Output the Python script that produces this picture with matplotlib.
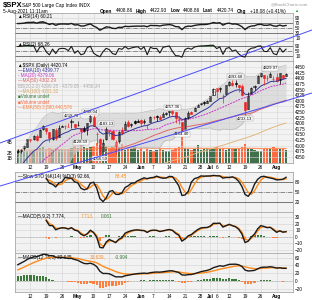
import numpy as np
import pandas as pd
import matplotlib
matplotlib.use("Agg")
import matplotlib.pyplot as plt
from matplotlib.lines import Line2D

W, H = 312, 300
plt.rcParams["font.family"] = ["Liberation Sans", "DejaVu Sans"]

# closes before the visible window (warm-up for the indicators), Jan 4 - Apr 5 2021
prior_close = [3700.65, 3726.86, 3748.14, 3803.79, 3824.68, 3799.61, 3801.19, 3809.84, 3795.54, 3768.25,
               3798.91, 3851.85, 3853.07, 3841.47, 3855.36, 3849.62, 3750.77, 3787.38, 3714.24, 3773.86,
               3826.31, 3830.17, 3871.74, 3886.83, 3915.59, 3911.23, 3909.88, 3916.38, 3934.83, 3932.59,
               3931.33, 3913.97, 3906.71, 3876.50, 3881.37, 3925.43, 3829.34, 3811.15, 3901.82, 3870.29,
               3819.72, 3768.47, 3841.94, 3821.35, 3875.44, 3898.81, 3939.34, 3943.34, 3968.94, 3962.71,
               3974.12, 3915.46, 3913.10, 3940.59, 3910.52, 3889.14, 3909.52, 3974.54, 3971.09, 3958.55,
               3972.89, 4019.87, 4077.91]

dates = pd.bdate_range("2021-04-06", "2021-08-05")
dates = dates[~dates.isin(pd.to_datetime(["2021-05-31", "2021-07-05"]))]

opens = [4075.6, 4074.3, 4089.9, 4096.1, 4124.7, 4130.1, 4141.6, 4140.0, 4174.1, 4179.8,
         4159.2, 4128.4, 4170.5, 4138.8, 4185.0, 4188.3, 4185.1, 4206.1, 4198.1, 4191.9,
         4179.0, 4177.1, 4169.1, 4210.3, 4228.3, 4150.3, 4130.6, 4075.0, 4129.6, 4169.9,
         4165.9, 4098.5, 4121.0, 4168.6, 4170.2, 4205.9, 4191.6, 4210.8, 4210.8, 4216.5,
         4206.1, 4191.4, 4206.1, 4229.3, 4232.0, 4228.6, 4229.3, 4242.9, 4248.3, 4255.3,
         4248.9, 4220.4, 4204.8, 4173.4, 4224.6, 4249.3, 4256.0, 4274.4, 4284.9, 4293.2,
         4290.6, 4300.7, 4326.6, 4356.5, 4351.0, 4321.1, 4329.4, 4372.4, 4381.1, 4380.1,
         4369.0, 4367.4, 4296.4, 4265.1, 4331.1, 4361.3, 4381.2, 4409.6, 4416.4, 4402.9,
         4403.6, 4395.1, 4406.9, 4392.7, 4415.9, 4408.9]
highs = [4086.2, 4083.1, 4098.2, 4129.5, 4131.8, 4148.0, 4151.7, 4173.5, 4191.3, 4180.8,
         4159.2, 4175.0, 4179.6, 4194.2, 4194.2, 4193.4, 4201.5, 4218.8, 4198.1, 4209.4,
         4179.0, 4187.7, 4202.7, 4238.0, 4236.4, 4162.0, 4134.7, 4131.6, 4183.1, 4169.9,
         4169.1, 4125.9, 4164.4, 4182.7, 4209.5, 4213.4, 4202.1, 4213.4, 4218.4, 4219.4,
         4217.4, 4197.2, 4233.5, 4234.1, 4236.7, 4237.1, 4249.7, 4248.9, 4255.8, 4257.4,
         4251.9, 4232.3, 4204.8, 4226.2, 4255.8, 4254.0, 4271.3, 4286.1, 4292.1, 4300.5,
         4302.4, 4320.7, 4355.4, 4356.5, 4361.9, 4330.9, 4371.6, 4386.7, 4393.4, 4393.7,
         4369.0, 4375.1, 4296.4, 4336.8, 4359.7, 4369.9, 4415.2, 4422.3, 4415.5, 4415.5,
         4429.9, 4412.3, 4422.2, 4423.8, 4416.2, 4422.9]
lows = [4068.1, 4068.3, 4082.5, 4095.5, 4114.8, 4124.4, 4120.9, 4139.9, 4170.8, 4150.5,
        4118.4, 4126.4, 4123.7, 4138.8, 4182.4, 4176.2, 4181.8, 4176.8, 4174.9, 4188.0,
        4128.6, 4160.9, 4147.3, 4201.6, 4188.1, 4111.5, 4056.6, 4074.9, 4125.7, 4143.5,
        4123.3, 4061.4, 4113.8, 4151.7, 4170.2, 4182.5, 4184.1, 4195.0, 4203.6, 4188.3,
        4198.6, 4173.9, 4206.1, 4218.7, 4210.3, 4218.7, 4229.3, 4237.6, 4234.1, 4238.6,
        4202.5, 4196.1, 4164.4, 4173.4, 4217.8, 4241.4, 4256.0, 4271.3, 4281.9, 4282.9,
        4289.4, 4300.5, 4326.6, 4314.4, 4340.7, 4289.4, 4329.4, 4364.0, 4366.9, 4362.9,
        4340.7, 4322.5, 4233.1, 4265.1, 4331.1, 4350.1, 4381.2, 4405.6, 4372.3, 4387.0,
        4403.6, 4385.4, 4384.8, 4373.0, 4397.6, 4408.9]
closes = [4073.94, 4079.95, 4097.17, 4128.80, 4127.99, 4141.59, 4124.66, 4170.42, 4185.47, 4163.26,
          4134.94, 4173.42, 4134.98, 4180.17, 4187.62, 4186.72, 4183.18, 4211.47, 4181.17, 4192.66,
          4164.66, 4167.59, 4201.62, 4232.60, 4188.43, 4152.10, 4063.04, 4112.50, 4173.85, 4163.29,
          4127.83, 4115.68, 4159.12, 4155.86, 4197.05, 4188.13, 4195.99, 4200.88, 4204.11, 4202.04,
          4208.12, 4192.85, 4229.89, 4226.52, 4227.26, 4219.55, 4239.18, 4247.44, 4255.15, 4246.59,
          4223.70, 4221.86, 4166.45, 4224.79, 4246.44, 4241.84, 4266.49, 4280.70, 4290.61, 4291.80,
          4297.50, 4319.94, 4352.34, 4343.54, 4358.13, 4320.82, 4369.55, 4384.63, 4369.21, 4374.30,
          4360.03, 4327.16, 4258.49, 4323.06, 4358.69, 4367.48, 4411.79, 4422.30, 4401.46, 4400.64,
          4419.15, 4395.26, 4387.16, 4423.15, 4402.66, 4420.74]
# volume in billions
volume = [2.5, 2.4, 2.4, 2.3, 2.3, 2.4, 2.6, 2.8, 3.0, 2.6,
          2.9, 2.7, 2.9, 2.7, 2.6, 2.5, 2.7, 2.9, 3.2, 2.8,
          3.4, 3.1, 2.9, 3.1, 3.3, 3.8, 4.2, 3.7, 3.0, 2.8,
          3.0, 3.4, 3.0, 3.6, 2.5, 2.7, 2.6, 3.3, 2.5, 2.8,
          2.4, 2.6, 2.5, 2.3, 2.5, 2.6, 2.5, 2.3, 2.4, 2.5,
          2.8, 3.0, 5.0, 2.9, 2.7, 2.5, 2.6, 3.5, 2.5, 2.6,
          2.8, 2.7, 2.6, 3.1, 2.7, 2.9, 2.5, 2.6, 2.8, 2.7,
          2.7, 3.1, 3.6, 2.9, 2.6, 2.5, 2.4, 2.4, 2.8, 2.9,
          2.8, 3.0, 2.8, 2.6, 2.9, 2.5]

n = len(dates)
xs = np.arange(n, dtype=float)
o, h, l, c = (np.asarray(a, dtype=float) for a in (opens, highs, lows, closes))
vol = np.asarray(volume, dtype=float)
full = pd.Series(prior_close + closes, dtype=float)
k0 = len(prior_close)

ema10 = full.ewm(span=10, adjust=False).mean().to_numpy()[k0:]
ma20 = full.rolling(20).mean().to_numpy()[k0:]
sd20 = full.rolling(20).std(ddof=0).to_numpy()[k0:]
ma50 = full.rolling(50).mean().to_numpy()[k0:]
ma100 = full.rolling(100).mean().to_numpy()[k0:]
vol_ema = pd.Series(vol).ewm(span=50, adjust=False).mean().to_numpy()


def rsi(s, p):
    d = s.diff().fillna(0.0)
    up = d.clip(lower=0).ewm(alpha=1 / p, adjust=False).mean()
    dn = (-d.clip(upper=0)).ewm(alpha=1 / p, adjust=False).mean()
    return (100 - 100 / (1 + up / dn)).to_numpy()[k0:]


rsi14, rsi2 = rsi(full, 14), rsi(full, 2)
hh = pd.Series(h).rolling(14, min_periods=5).max()
ll = pd.Series(l).rolling(14, min_periods=5).min()
fast_k = 100 * (pd.Series(c) - ll) / (hh - ll)
slow_k = fast_k.rolling(3, min_periods=1).mean().to_numpy()
slow_d = pd.Series(slow_k).rolling(3, min_periods=1).mean().to_numpy()


def macd(a, b, s):
    m = full.ewm(span=a, adjust=False).mean() - full.ewm(span=b, adjust=False).mean()
    sg = m.ewm(span=s, adjust=False).mean()
    return m.to_numpy()[k0:], sg.to_numpy()[k0:], (m - sg).to_numpy()[k0:]


m1, s1, h1 = macd(5, 9, 2)
m2, s2, h2 = macd(12, 26, 9)

# ---------------------------------------------------------------- layout
fig = plt.figure(figsize=(W / 100, H / 100), dpi=100)
fig.patch.set_facecolor("white")
X0, X1 = 15, 293
XL = (-0.9, n - 1 + 2.2)
BG = "#f2f2f2"
GRID = "#d9d9d9"
FS = 3.4
K_COL, D_COL = "#1a1a1a", "#ff8c1a"

tick_days = ["2021-04-12", "2021-04-19", "2021-04-26", "2021-05-03", "2021-05-10", "2021-05-17",
             "2021-05-24", "2021-06-01", "2021-06-07", "2021-06-14", "2021-06-21", "2021-06-28",
             "2021-07-01", "2021-07-06", "2021-07-12", "2021-07-19", "2021-07-26", "2021-08-02"]
tick_lbls = ["12", "19", "26", "May", "10", "17", "24", "Jun", "7", "14", "21", "28",
             "Jul", "6", "12", "19", "26", "Aug"]
tick_pos = [int(np.searchsorted(dates, pd.Timestamp(d))) for d in tick_days]


def panel(y0, y1, ylim, yticks):
    ax = fig.add_axes([X0 / W, 1 - y1 / H, (X1 - X0) / W, (y1 - y0) / H])
    ax.set_facecolor(BG)
    ax.set_xlim(*XL)
    ax.set_ylim(*ylim)
    ax.set_xticks(tick_pos)
    ax.set_xticklabels([])
    ax.set_yticks(yticks)
    ax.tick_params(length=0, labelsize=FS, pad=1.5)
    for t in tick_pos:
        ax.axvline(t, color=GRID, lw=0.5, zorder=0.5)
    for yv in yticks:
        ax.axhline(yv, color=GRID, lw=0.5, zorder=0.5)
    for sp in ax.spines.values():
        sp.set_color("#999999")
        sp.set_linewidth(0.5)
    return ax


def overlay(ax, ylim, side="right"):
    # transparent twin on top of a panel, same scales, carries the indicator lines
    tw = ax.twinx()
    tw.set_xlim(*XL)
    tw.set_ylim(*ylim)
    tw.set_yticks([])
    tw.tick_params(length=0)
    for sp in tw.spines.values():
        sp.set_visible(False)
    if side == "right":
        ax.yaxis.tick_right()
    else:
        ax.yaxis.tick_left()
    ax.tick_params(length=0, labelsize=FS, pad=1.5)
    return tw


def xlabels(ax):
    ax.set_xticklabels(tick_lbls)
    for t in ax.get_xticklabels():
        if t.get_text().isalpha():
            t.set_fontweight("bold")


# header
fig.text(3 / W, 1 - 5 / H, "$SPX", fontsize=5.5, fontweight="bold", va="center")
fig.text(22 / W, 1 - 5 / H, "S&P 500 Large Cap Index INDX", fontsize=FS, va="center")
fig.text(308 / W, 1 - 4 / H, "@StockCharts.com", fontsize=3.2, color="#999999", va="center", ha="right")
fig.text(3 / W, 1 - 11 / H, "5-Aug-2021 11:11am", fontsize=FS, va="center")
hdr = [("Open", True, 100), ("4408.86", False, 116), ("High", True, 136), ("4422.93", False, 150),
       ("Low", True, 171), ("4408.86", False, 183), ("Last", True, 203), ("4420.74", False, 217),
       ("Chg", True, 237), ("+18.08 (+0.41%)", False, 250)]
for txt, b, hx in hdr:
    fig.text(hx / W, 1 - 11 / H, txt, fontsize=FS, fontweight="bold" if b else "normal", va="center")
fig.text(294 / W, 1 - 11 / H, "\u25b2", fontsize=3, color="#22aa22", va="center")

# RSI(14)
lim = (-2, 110)
ax = panel(13, 41, lim, [10, 30, 50, 70, 90])
ax.axhline(70, color="#666666", lw=0.6)
ax.axhline(30, color="#666666", lw=0.6)
ax.axhline(50, color="#666666", lw=0.5, ls="-.")
ax.text(0.012, 0.95, "\u25b2RSI(14) 60.21", transform=ax.transAxes, fontsize=FS, va="top")
tw = overlay(ax, lim)
tw.fill_between(xs, rsi14, 70, where=rsi14 > 70, color="#3c7a3c", interpolate=True, lw=0)
tw.fill_between(xs, rsi14, 30, where=rsi14 < 30, color="#ff7f3f", interpolate=True, lw=0)
tw.plot(xs, rsi14, color=K_COL, lw=1.0)

# RSI(2)
lim = (-30, 135)
ax = panel(41, 61, lim, [10, 50, 90])
ax.axhline(90, color="#666666", lw=0.6)
ax.axhline(10, color="#666666", lw=0.6)
ax.axhline(50, color="#666666", lw=0.5, ls="-.")
ax.text(0.012, 0.97, "\u25b2RSI(2) 68.26", transform=ax.transAxes, fontsize=FS, va="top")
tw = overlay(ax, lim)
tw.fill_between(xs, rsi2, 90, where=rsi2 > 90, color="#3c7a3c", interpolate=True, lw=0)
tw.fill_between(xs, rsi2, 10, where=rsi2 < 10, color="#ff7f3f", interpolate=True, lw=0)
tw.plot(xs, rsi2, color=K_COL, lw=0.8)

# price panel with volume overlay
axv = panel(61, 163, (0, 19.6), [])
up = np.r_[True, c[1:] >= c[:-1]]
axv.bar(xs, vol, width=0.75, color=np.where(up, "#41704a", "#ff6a40"), lw=0)
tv = overlay(axv, (0, 19.6), side="left")
tv.plot(xs, vol_ema, color="#ff9060", lw=0.8)
ax = axv.twinx()
axv.yaxis.tick_left()
axv.set_yticks([1, 2, 4])
axv.set_yticklabels(["1B", "2B", "4B"])
axv.tick_params(length=0, labelsize=FS, pad=1.5)
ax.set_xlim(*XL)
ax.set_ylim(4023, 4477)
ax.set_yticks(np.arange(4050, 4451, 25))
ax.tick_params(length=0, labelsize=FS, pad=1.5)
for sp in ax.spines.values():
    sp.set_visible(False)
for yv in np.arange(4050, 4451, 25):
    ax.axhline(yv, color=GRID, lw=0.4, zorder=0)
ax.fill_between(xs, ma20 - 2 * sd20, ma20 + 2 * sd20, color="#cfcfcf", alpha=0.6, lw=0)
ax.plot(xs, ma20 + 2 * sd20, color="#bbbbbb", lw=0.5)
ax.plot(xs, ma20 - 2 * sd20, color="#bbbbbb", lw=0.5)
ax.plot(xs, ma100, color="#e0b880", lw=0.7)
ax.plot(xs, ma50, color="#e06666", lw=0.7)
ax.plot(xs, ma20, color="#cc33cc", lw=0.7, ls=(0, (2, 1)))
ax.plot(xs, ema10, color="#333399", lw=0.7)
pc = np.r_[c[0], c[:-1]]
for i in range(n):
    col = "#000000" if c[i] >= pc[i] else "#ee2222"
    ax.vlines(i, l[i], h[i], color=col, lw=0.5)
    bot, top = min(o[i], c[i]), max(o[i], c[i])
    top = max(top, bot + 0.8)
    ax.bar(i, top - bot, bottom=bot, width=0.65, facecolor=("white" if c[i] > o[i] else col),
           edgecolor=col, lw=0.4)
notes = [("2021-04-29", "4218.78", "h"), ("2021-05-04", "4128.59", "l"), ("2021-05-07", "4238.04", "h"),
         ("2021-05-12", "4056.59", "l"), ("2021-05-14", "4183.13", "h"), ("2021-06-15", "4257.36", "h"),
         ("2021-06-18", "4164.40", "l"), ("2021-07-14", "4393.68", "h"), ("2021-07-19", "4233.13", "l"),
         ("2021-07-29", "4429.97", "h")]
for d, txt, kind in notes:
    i = int(np.searchsorted(dates, pd.Timestamp(d)))
    if kind == "h":
        ax.text(i, h[i] + 5, txt, fontsize=3.1, ha="center", va="bottom",
                bbox=dict(boxstyle="square,pad=0.12", fc="white", ec="#999999", lw=0.3))
    else:
        ax.text(i, l[i] - 5, txt, fontsize=3.1, ha="center", va="top",
                bbox=dict(boxstyle="square,pad=0.12", fc="white", ec="#999999", lw=0.3))
legend = [("\u25b2$SPX (Daily) 4420.74", "#000000"), ("\u2014EMA(10) 4399.77", "#333399"),
          ("- MA(20) 4379.06", "#cc33cc"), ("\u2014MA(50) 4302.29", "#e06666"),
          ("BB(20,2.0) 4299.35 - 4379.05 - 4458.34", "#aaaaaa"), ("\u2014MA(100) 4201.32", "#d9a860"),
          ("\u25a0Volume undef", "#3c7a3c"), ("\u25a0Volume undef", "#ff6a40"),
          ("\u2014EMA(50) 2,880,440,576", "#ff7f3f")]
for k, (txt, col) in enumerate(legend):
    ax.text(0.012, 0.985 - k * 0.052, txt, transform=ax.transAxes, fontsize=3.3, color=col, va="top")
xlabels(axv)

# Slow STO
st = 9
lim = (-8, 108)
ax = panel(172, 212, lim, [20, 50, 80])
ax.axhline(80, color="#666666", lw=0.6)
ax.axhline(20, color="#666666", lw=0.6)
ax.axhline(50, color="#666666", lw=0.5, ls="-.")
ax.text(0.012, 0.96, "\u2014Slow STO %K(14) %D(3) 92.66,", transform=ax.transAxes, fontsize=FS, va="top")
ax.text(0.36, 0.96, "88.45", transform=ax.transAxes, fontsize=FS, va="top", color=D_COL)
tw = overlay(ax, lim)
tw.plot(xs[st:], slow_d[st:], color=D_COL, lw=1.0)
tw.plot(xs[st:], slow_k[st:], color=K_COL, lw=1.0)

# MACD(5,9,2)
lim = (-25, 38)
ax = panel(212, 253, lim, [-20, -10, 0, 10, 20, 30])
ax.axhline(0, color="#aaaaaa", lw=0.4, ls="--")
ax.text(0.012, 0.96, "\u2014MACD(5,9,2) 7.774,", transform=ax.transAxes, fontsize=FS, va="top")
ax.text(0.235, 0.96, "7.713,", transform=ax.transAxes, fontsize=FS, va="top", color=D_COL)
ax.text(0.31, 0.96, "0.061", transform=ax.transAxes, fontsize=FS, va="top", color="#3c7a3c")
tw = overlay(ax, lim)
tw.bar(xs[st:], h1[st:], width=0.7, color=np.where(h1[st:] >= 0, "#3c7a3c", "#ff7f3f"), lw=0)
tw.plot(xs[st:], s1[st:], color=D_COL, lw=1.0)
tw.plot(xs[st:], m1[st:], color=K_COL, lw=1.0)

# MACD(12,26,9)
lim = (-28, 72)
ax = panel(253, 292, lim, [-20, 0, 20, 40, 60])
ax.axhline(0, color="#aaaaaa", lw=0.4, ls="--")
ax.text(0.012, 0.96, "\u2014MACD(12,26,9) 32.645,", transform=ax.transAxes, fontsize=FS, va="top")
ax.text(0.27, 0.96, "33.639,", transform=ax.transAxes, fontsize=FS, va="top", color=D_COL)
ax.text(0.36, 0.96, "-0.994", transform=ax.transAxes, fontsize=FS, va="top", color="#3c7a3c")
tw = overlay(ax, lim)
xlabels(ax)
tw.bar(xs, h2, width=0.7, color=np.where(h2 >= 0, "#3c7a3c", "#ff7f3f"), lw=0)
tw.plot(xs, s2, color=D_COL, lw=1.0)
tw.plot(xs, m2, color=K_COL, lw=1.0)

# trend channel drawn across the whole chart (figure pixel coords)
for (xa, ya, xb, yb, col) in [(0, 186, 312, 93, "#4a4aff"), (0, 143, 312, 30, "#4a4aff")]:
    fig.add_artist(Line2D([xa / W, xb / W], [1 - ya / H, 1 - yb / H], color=col, lw=0.7))

fig.savefig("out.png", dpi=100)
